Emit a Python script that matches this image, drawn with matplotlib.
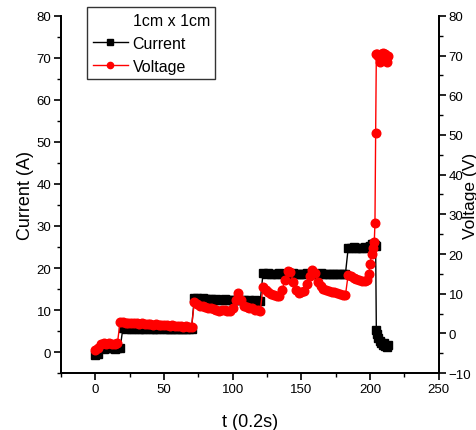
import matplotlib
matplotlib.use("Agg")
import matplotlib.pyplot as plt
from matplotlib.lines import Line2D
from matplotlib.ticker import MultipleLocator

plt.rcParams['font.family'] = ['Liberation Sans', 'DejaVu Sans']

# time samples, units of 0.2 s
t = [0, 2, 4, 6, 8, 10, 12, 14, 16, 18,
     20, 22, 24, 26, 28, 30, 32, 34, 36, 38, 40, 42, 44, 46, 48, 50,
     52, 54, 56, 58, 60, 62, 64, 66, 68, 70,
     72, 74, 76, 78, 80, 82, 84, 86, 88, 90, 92, 94, 96, 98, 100,
     102, 104, 106, 108, 110, 112, 114, 116, 118, 120,
     122, 124, 126, 128, 130, 132, 134, 136, 138, 140, 142, 144, 146, 148, 150,
     152, 154, 156, 158, 160, 162, 164, 166, 168, 170, 172, 174, 176, 178, 180, 182,
     184, 186, 188, 190, 192, 194, 196, 198,
     199, 200, 201, 202, 203, 203.5, 204, 204.5,
     205, 206, 207, 208, 209, 210, 211, 212, 213]

current = [-0.6, -0.4, 0.9, 0.8, 0.9, 1.0, 0.9, 0.8, 0.9, 0.9,
           5.7, 5.6, 5.8, 5.6, 5.5, 5.7, 5.6, 5.5, 5.6, 5.7, 5.5, 5.6, 5.6,
           5.5, 5.7, 5.6, 5.5, 5.6, 5.5, 5.6, 5.5, 5.6, 5.5, 5.6, 5.5, 5.6,
           12.9, 12.8, 12.7, 12.8, 12.6, 12.7, 12.6, 12.5, 12.6, 12.4, 12.5, 12.6,
           12.4, 12.5, 12.4, 12.3, 12.4, 12.3, 12.4, 12.2, 12.3, 12.2, 12.3, 12.2, 12.2,
           18.7, 18.6, 18.7, 18.6, 18.5, 18.6, 18.7, 18.6, 18.6, 18.5, 18.6, 18.7,
           18.6, 18.5, 18.6, 18.6, 18.7, 18.6, 18.5, 18.6, 18.6, 18.7, 18.6, 18.5,
           18.6, 18.6, 18.5, 18.6, 18.6, 18.5, 18.6,
           24.7, 24.8, 24.9, 24.8, 24.7, 24.8, 24.9, 24.8,
           25.0, 25.2, 25.6, 25.8, 25.6, 25.4, 25.3, 5.2,
           4.3, 3.4, 2.6, 2.2, 1.7, 2.1, 1.5, 1.3, 1.8]

voltage = [-4.2, -3.8, -2.6, -2.5, -2.6, -2.5, -2.7, -2.6, -2.5, 2.9,
           2.8, 2.7, 2.6, 2.7, 2.5, 2.6, 2.4, 2.5, 2.3, 2.4, 2.3, 2.2, 2.3,
           2.1, 2.2, 2.0, 2.1, 1.9, 2.0, 1.8, 1.9, 1.8, 1.7, 1.8, 1.6, 1.7,
           7.8, 7.4, 7.0, 6.8, 6.6, 6.4, 6.3, 6.1, 5.8, 5.6, 5.9, 6.0, 5.7,
           5.6, 6.5, 8.5, 10.2, 8.4, 7.0, 6.6, 6.5, 6.3, 6.0, 5.8, 5.6,
           11.8, 11.0, 10.4, 10.0, 9.6, 9.3, 9.4, 11.0, 13.5, 15.8, 15.5, 13.0,
           11.0, 10.2, 10.4, 10.8, 12.5, 14.5, 16.0, 15.2, 13.0, 12.0, 11.3,
           11.0, 10.6, 10.5, 10.4, 10.3, 10.0, 9.8, 9.6,
           14.8, 14.4, 14.0, 13.6, 13.4, 13.3, 13.2, 13.5,
           15.0, 17.5, 20.0, 21.5, 23.0, 27.8, 50.4, 70.3,
           70.5, 70.0, 68.4, 70.4, 70.6, 70.1, 70.4, 68.3, 70.0]

fig = plt.figure(figsize=(4.77, 4.31), dpi=100)
ax = fig.add_axes([0.128, 0.132, 0.792, 0.829])
ax2 = ax.twinx()

ax.plot(t, current, color='black', lw=1, marker='s', ms=5.2, mec='black', mfc='black')
ax2.plot(t, voltage, color='red', lw=1, marker='o', ms=6.2, mec='red', mfc='red')

ax.set_xlim(-25, 250)
ax.set_ylim(-5, 80)
ax2.set_ylim(-10, 80)

ax.xaxis.set_major_locator(MultipleLocator(50))
ax.xaxis.set_minor_locator(MultipleLocator(25))
ax.yaxis.set_major_locator(MultipleLocator(10))
ax.yaxis.set_minor_locator(MultipleLocator(5))
ax2.yaxis.set_major_locator(MultipleLocator(10))
ax2.yaxis.set_minor_locator(MultipleLocator(5))

for a in (ax, ax2):
    a.spines['top'].set_visible(False)
    for s in a.spines.values():
        s.set_linewidth(1.3)
    a.tick_params(which='major', direction='out', length=5, width=1.2, labelsize=9.5, pad=2)
    a.tick_params(which='minor', direction='out', length=3, width=1.0)

ax.set_xlabel('t (0.2s)', fontsize=13)
ax.xaxis.set_label_coords(0.5, -0.112)
ax.set_ylabel('Current (A)', fontsize=13)
ax.yaxis.set_label_coords(-0.072, 0.5)
ax2.set_ylabel('Voltage (V)', fontsize=12.5)
ax2.yaxis.set_label_coords(1.064, 0.5)

handles = [Line2D([], [], linestyle='none'),
           Line2D([], [], color='black', lw=1, marker='s', ms=4.5),
           Line2D([], [], color='red', lw=1, marker='o', ms=4.5)]
labels = ['1cm x 1cm', 'Current', 'Voltage']
leg = ax2.legend(handles, labels, loc='upper left', bbox_to_anchor=(87 / 477, 1 - 8 / 431),
                 bbox_transform=fig.transFigure, fontsize=11.5, frameon=True, fancybox=False,
                 handlelength=2.2, handletextpad=0.3, borderaxespad=0, labelspacing=0.5,
                 borderpad=0.35)
leg.get_frame().set_edgecolor('black')
leg.get_frame().set_linewidth(1.0)

fig.savefig('out.png', dpi=100)
